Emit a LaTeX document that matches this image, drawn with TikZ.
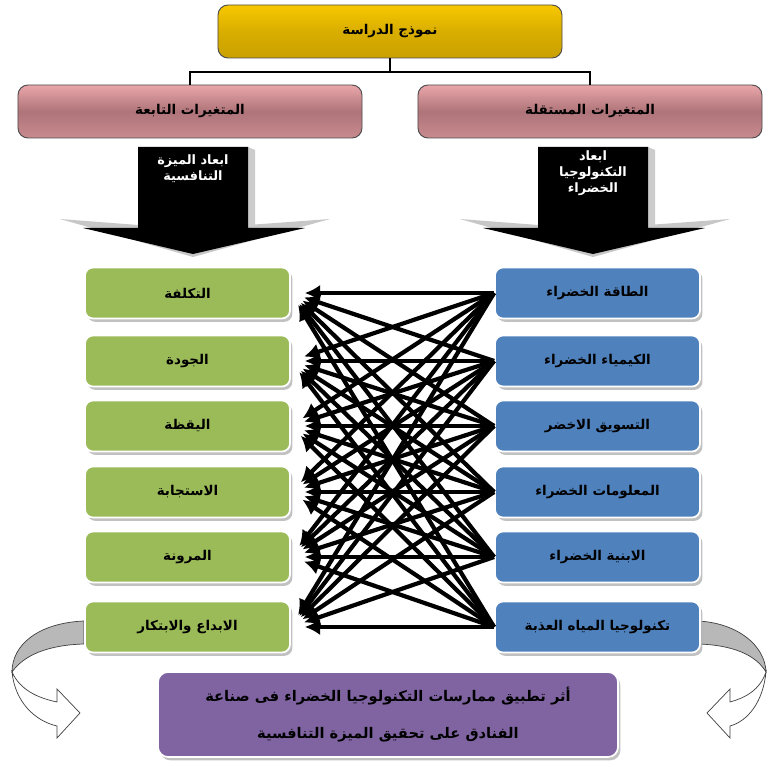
\documentclass[tikz,border=0pt]{standalone}
\usepackage{fontspec}
\newfontfamily\ar[Script=Arabic]{DejaVu Sans}
\TeXXeTstate=1
\usetikzlibrary{arrows.meta,shadows}
\definecolor{goldA}{HTML}{F7C800}
\definecolor{goldB}{HTML}{C9A000}
\definecolor{goldC}{HTML}{D9AE00}
\definecolor{pinkA}{HTML}{E9A6AA}
\definecolor{pinkB}{HTML}{C88A8F}
\definecolor{pinkC}{HTML}{AE7479}
\definecolor{grn}{HTML}{9BBB59}
\definecolor{blu}{HTML}{4F81BD}
\definecolor{pur}{HTML}{8064A2}
\newcommand\AR[1]{\beginR #1\endR}
\begin{document}
\begin{tikzpicture}[x=0.03cm,y=-0.03cm,
  every node/.style={font=\ar\bfseries\fontsize{11.5}{14}\selectfont, align=center},
  topbox/.style={rounded corners=0.3cm, minimum width=10.32cm, minimum height=1.59cm,
     top color=goldA, bottom color=goldB, middle color=goldC, draw=black!70, line width=0.8pt},
  pinkbox/.style={rounded corners=0.3cm, minimum width=10.32cm, minimum height=1.59cm,
     top color=pinkA, bottom color=pinkB, middle color=pinkC, draw=black!70, line width=0.8pt},
  cbox/.style={rounded corners=0.24cm, minimum width=6.15cm, minimum height=1.53cm,
     draw=white, line width=1.5pt,
     drop shadow={shadow xshift=0.07cm, shadow yshift=-0.1cm, fill=black!30, opacity=0.8}},
  gbox/.style={cbox, fill=grn},
  bbox/.style={cbox, fill=blu},
  tree/.style={line width=2.4pt, draw=black},
  conn/.style={line width=3.6pt, draw=black, -{Latex[length=13pt,width=14pt]},
     shorten >=0.42cm},
  ribg/.style={fill=black!28, draw=black!75, line width=0.6pt},
  ribw/.style={fill=white, draw=black!75, line width=0.6pt},
  darr/.style={font=\ar\bfseries\fontsize{11}{13.5}\selectfont, text=white}
]
\useasboundingbox[fill=white] (0,0) rectangle (772,767);

% top part
\node[topbox] (top) at (390,31.5) {\AR{نموذج الدراسة}};
\node[pinkbox] (pl) at (190,111.5) {\AR{المتغيرات التابعة}};
\node[pinkbox] (pr) at (590,111.5) {\AR{المتغيرات المستقلة}};
\coordinate (hl) at (0,72);
\draw[tree] (top.south) -- (top.south |- hl);
\draw[tree] (pl.north) -- (pl.north |- hl) -- (pr.north |- hl) -- (pr.north);

% big black arrows
\fill[black!22] (60,219) -- (138,225) -- (248,225) -- (330,219) -- (193,257) -- cycle;
\fill[black!20] (248,147) -- (255,150) -- (255,226) -- (248,226) -- cycle;
\fill[black] (138,147) -- (248,147) -- (248,228) -- (305,228) -- (193,254) -- (83,228) -- (138,228) -- cycle;
\fill[black!22] (460,219) -- (538,225) -- (648,225) -- (730,219) -- (593,257) -- cycle;
\fill[black!20] (648,147) -- (655,150) -- (655,226) -- (648,226) -- cycle;
\fill[black] (538,147) -- (648,147) -- (648,228) -- (705,228) -- (593,254) -- (483,228) -- (538,228) -- cycle;
\node[darr] (dl) at (193,169) {\AR{ابعاد الميزة}\\\AR{التنافسية}};
\node[darr] (dr) at (593,173) {\AR{ابعاد}\\\AR{التكنولوجيا}\\\AR{الخضراء}};

% curved ribbon arrows
\filldraw[ribg] (84,621) .. controls (38,623) and (12,645) .. (12,672) .. controls (24,655) and (48,645) .. (84,644) -- cycle;
\filldraw[ribw] (12,672) .. controls (15,702) and (35,721) .. (57,726) -- (57,738) -- (80,713) -- (57,689) -- (57,702) .. controls (38,698) and (20,690) .. (12,672) -- cycle;
\filldraw[ribg] (698,621) .. controls (737,623) and (765,645) .. (766,672) .. controls (756,655) and (733,645) .. (698,644) -- cycle;
\filldraw[ribw] (766,672) .. controls (763,702) and (748,721) .. (730,726) -- (730,738) -- (707,713) -- (730,689) -- (730,702) .. controls (745,698) and (760,690) .. (766,672) -- cycle;

% left column (green)
\node[gbox] (g1) at (187.5,293) {\AR{التكلفة}};
\node[gbox] (g2) at (187.5,361) {\AR{الجودة}};
\node[gbox] (g3) at (187.5,426) {\AR{اليقظة}};
\node[gbox] (g4) at (187.5,492) {\AR{الاستجابة}};
\node[gbox] (g5) at (187.5,557) {\AR{المرونة}};
\node[gbox] (g6) at (187.5,627) {\AR{الابداع والابتكار}};
% right column (blue)
\node[bbox] (b1) at (597.5,293) {\AR{الطاقة الخضراء}};
\node[bbox] (b2) at (597.5,361) {\AR{الكيمياء الخضراء}};
\node[bbox] (b3) at (597.5,426) {\AR{التسويق الاخضر}};
\node[bbox] (b4) at (597.5,492) {\AR{المعلومات الخضراء}};
\node[bbox] (b5) at (597.5,557) {\AR{الابنية الخضراء}};
\node[bbox] (b6) at (597.5,627) {\AR{تكنولوجيا المياه العذبة}};

% purple result box
\node[rounded corners=0.3cm, minimum width=13.8cm, minimum height=2.55cm, fill=pur,
      draw=white, line width=1.5pt,
      drop shadow={shadow xshift=0.07cm, shadow yshift=-0.1cm, fill=black!30, opacity=0.8},
      font=\ar\bfseries\fontsize{12.5}{31}\selectfont]
  (res) at (388,714.5) {\AR{أثر تطبيق ممارسات التكنولوجيا الخضراء فى صناعة}\\\AR{الفنادق على تحقيق الميزة التنافسية}};

% connectors: every blue node to every green node
\foreach \i in {1,...,6}{
  \foreach \j in {1,...,6}{
    \draw[conn] (b\i.west) -- (g\j.east);
  }
}
\end{tikzpicture}
\end{document}
